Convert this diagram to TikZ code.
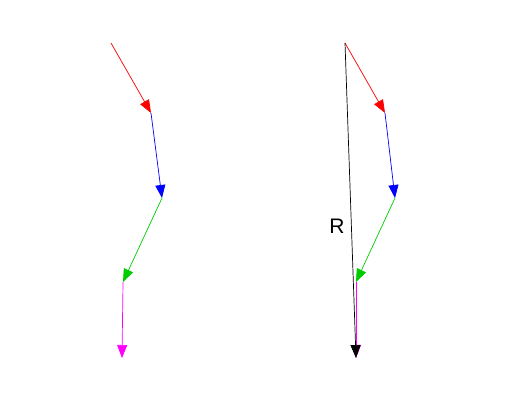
\documentclass[tikz,border=0pt]{standalone}
\usepackage{fontspec}
\setmainfont{Liberation Sans}
\usetikzlibrary{arrows.meta}
\begin{document}
\begin{tikzpicture}[x=1pt,y=-1pt]
  \definecolor{kRed}{rgb}{1,0,0}
  \definecolor{kBlue}{rgb}{0,0,1}
  \definecolor{kGreen}{rgb}{0,0.8,0}
  \definecolor{kMagenta}{rgb}{1,0,1}
  \tikzset{vec/.style={line width=0.7pt,-{Triangle[length=13pt,width=10pt]}}}
  \useasboundingbox (0,0) rectangle (516,414);

  % left chain
  \coordinate (a0) at (111,43);
  \coordinate (a1) at (151,113);
  \coordinate (a2) at (162,198);
  \coordinate (a3) at (123,282);
  \coordinate (a4) at (122,358);

  % right chain
  \coordinate (b0) at (345,43);
  \coordinate (b1) at (385,113);
  \coordinate (b2) at (395,198);
  \coordinate (b3) at (356,282);
  \coordinate (b4) at (356,358);

  \foreach \p in {a,b}
  {
    \draw[vec,color=kRed] (\p0) -- (\p1);
    \draw[vec,color=kBlue] (\p1) -- (\p2);
    \draw[vec,color=kGreen] (\p2) -- (\p3);
    \draw[vec,color=kMagenta] (\p3) -- (\p4);
  }

  \draw[vec,color=black] (b0) -- (b4);
  \node[font=\fontsize{21}{24}\selectfont] (R) at (337,226) {R};
\end{tikzpicture}
\end{document}
